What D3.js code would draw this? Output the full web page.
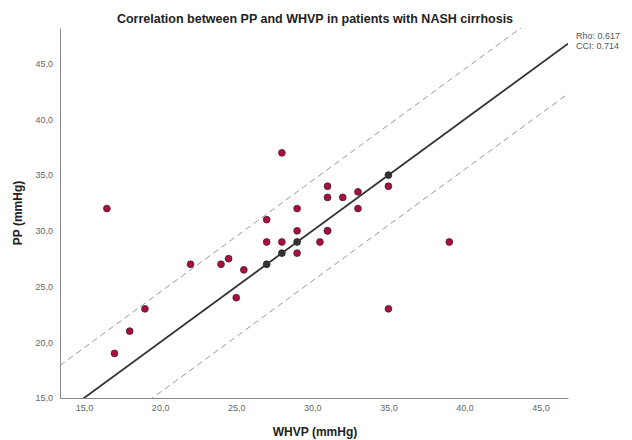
<!DOCTYPE html>
<html><head><meta charset="utf-8">
<script src="https://cdn.jsdelivr.net/npm/d3@7/dist/d3.min.js"></script>
<style>body{margin:0;background:#fff}</style>
</head><body>
<svg id="c" width="632" height="440"></svg>
<script>
const whvp = [16.5,17,18,19,22,24,24.5,25,25.5,27,27,27,28,28,28,29,29,29,29,30.5,31,31,31,31,32,33,33,35,35,35,39];
const pp   = [32,19,21,23,27,27,27.5,24,26.5,31,29,27,37,29,28,32,30,29,28,29,34,33,30,30,33,33.5,32,35,34,23,29];
const xTicks = [15,20,25,30,35,40,45];
const yTicks = [15,20,25,30,35,40,45];
const loaOffset = 4.5;
const stats = ["Rho: 0.617","CCI: 0.714"];

const svg = d3.select("#c");
const x = d3.scaleLinear().domain([13.42,46.8]).range([60,568]);
const y = d3.scaleLinear().domain([15,48.2]).range([398,28]);
const fmt = d => d3.format(".1f")(d).replace(".", ",");

const clip = svg.append("clipPath").attr("id","pc").append("rect")
  .attr("x",60).attr("y",28).attr("width",508).attr("height",370);

// points
const pts = whvp.map((d,i)=>({x:d,y:pp[i]}));
svg.append("g").selectAll("circle").data(pts).join("circle")
  .attr("cx",d=>x(d.x)).attr("cy",d=>y(d.y)).attr("r",3.4)
  .attr("fill",d=>d.x===d.y?"#3a3035":"#a8103c")
  .attr("stroke",d=>d.x===d.y?"#222":"#4a2030").attr("stroke-width",0.8);

const g = svg.append("g").attr("clip-path","url(#pc)");
const dom = x.domain();
const line = d3.line().x(d=>x(d[0])).y(d=>y(d[1]));
g.append("path").attr("d",line(dom.map(v=>[v,v])))
  .attr("stroke","#333").attr("stroke-width",1.8).attr("fill","none");
[loaOffset,-loaOffset].forEach(o=>{
  g.append("path").attr("d",line(dom.map(v=>[v,v+o])))
   .attr("stroke","#999").attr("stroke-width",1).attr("stroke-dasharray","6,4").attr("fill","none");
});

// axes
const xa = svg.append("g").attr("transform","translate(0,398)")
  .call(d3.axisBottom(x).tickValues(xTicks).tickFormat(fmt).tickSize(0).tickPadding(7));
const ya = svg.append("g").attr("transform","translate(60,0)")
  .call(d3.axisLeft(y).tickValues(yTicks).tickFormat(fmt).tickSize(0).tickPadding(7));
[xa,ya].forEach(a=>{
  a.select(".domain").attr("stroke","#888").attr("stroke-width",1);
  a.selectAll("text").attr("fill","#666").attr("font-family","Liberation Sans, Arial, sans-serif").attr("font-size",9);
});

svg.append("text").attr("x",315).attr("y",23).attr("text-anchor","middle")
  .attr("font-family","Liberation Sans, Arial, sans-serif").attr("font-weight","bold")
  .attr("font-size",12.5).attr("fill","#222").text("Correlation between PP and WHVP in patients with NASH cirrhosis");
svg.append("text").attr("x",315).attr("y",436).attr("text-anchor","middle")
  .attr("font-family","Liberation Sans, Arial, sans-serif").attr("font-weight","bold")
  .attr("font-size",12).attr("fill","#222").text("WHVP (mmHg)");
svg.append("text").attr("transform","translate(22,213) rotate(-90)").attr("text-anchor","middle")
  .attr("font-family","Liberation Sans, Arial, sans-serif").attr("font-weight","bold")
  .attr("font-size",12).attr("fill","#222").text("PP (mmHg)");
stats.forEach((s,i)=>svg.append("text").attr("x",576).attr("y",39+i*10)
  .attr("font-family","Liberation Sans, Arial, sans-serif").attr("font-size",9).attr("fill","#555").text(s));
</script>
</body></html>
